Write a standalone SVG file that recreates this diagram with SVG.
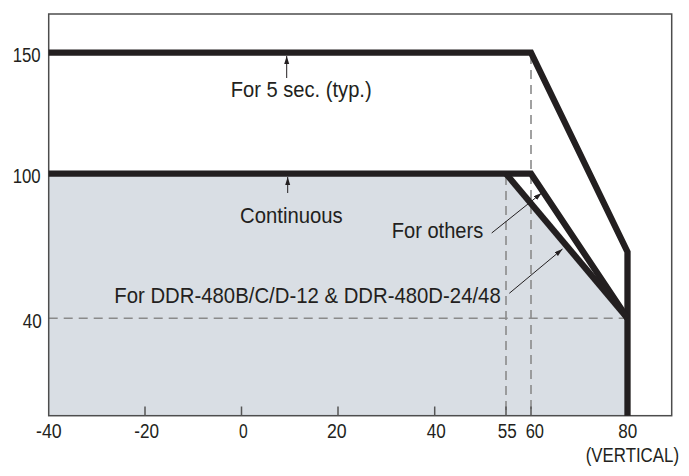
<svg xmlns="http://www.w3.org/2000/svg" width="689" height="476" viewBox="0 0 689 476">
<style>
.t{font-family:"Liberation Sans",Arial,sans-serif;fill:#231f20;}
.tk{font-size:20px;}
.lb{font-size:22px;}
.curve{fill:none;stroke:#231f20;stroke-width:6.3;stroke-linejoin:miter;}
.dash{fill:none;stroke:#8a8a8a;stroke-width:1.6;stroke-dasharray:9,6;}
.tick{stroke:#555;stroke-width:1.5;}
.arr{stroke:#231f20;stroke-width:1;fill:none;marker-end:url(#ah);}
</style>
<defs>
<marker id="ah" markerUnits="userSpaceOnUse" markerWidth="9" markerHeight="6" refX="8" refY="2.5" orient="auto">
<path d="M0,0 L8,2.5 L0,5 z" fill="#231f20"/>
</marker>
</defs>
<rect width="689" height="476" fill="#ffffff"/>
<g id="area">
<polygon points="48.7,173.7 506,173.7 627.5,318.3 627.5,415.7 48.7,415.7" fill="#d9dee4"/>
</g>
<g id="guides">
<line class="dash" x1="48.7" y1="318.3" x2="627" y2="318.3"/>
<line class="dash" x1="506" y1="176" x2="506" y2="415.7"/>
<line class="dash" x1="531" y1="55" x2="531" y2="415.7"/>
</g>
<g id="frame">
<rect x="48.7" y="14" width="623" height="401.7" fill="none" stroke="#4d4d4d" stroke-width="1.5"/>
<line class="tick" x1="145" y1="406.5" x2="145" y2="415.7"/>
<line class="tick" x1="241.5" y1="406.5" x2="241.5" y2="415.7"/>
<line class="tick" x1="338" y1="406.5" x2="338" y2="415.7"/>
<line class="tick" x1="434.7" y1="406.5" x2="434.7" y2="415.7"/>
<line class="tick" x1="506" y1="406.5" x2="506" y2="415.7"/>
<line class="tick" x1="531" y1="406.5" x2="531" y2="415.7"/>
</g>
<g id="curve150">
<path class="curve" d="M48.7,52.7 L531,52.7 L627.5,252 L627.5,415.7"/>
</g>
<g id="curve100">
<path class="curve" d="M48.7,173.7 L531,173.7 L627.5,318.3"/>
</g>
<g id="curve55">
<path class="curve" d="M506,173.7 L627.5,318.3"/>
</g>
<g id="connectors">
<line class="arr" x1="286.7" y1="78" x2="286.7" y2="56"/>
<line class="arr" x1="287.7" y1="193" x2="287.7" y2="177"/>
<line class="arr" x1="491.7" y1="233" x2="541.7" y2="193"/>
<line class="arr" x1="509.3" y1="293.3" x2="562.5" y2="249"/>
</g>
<g id="labels">
<text class="t lb" x="230.7" y="97.3" textLength="141" lengthAdjust="spacingAndGlyphs">For 5 sec. (typ.)</text>
<text class="t lb" x="240" y="222.7" textLength="102.7" lengthAdjust="spacingAndGlyphs">Continuous</text>
<text class="t lb" x="391.7" y="238.3" textLength="91.6" lengthAdjust="spacingAndGlyphs">For others</text>
<text class="t lb" x="114.3" y="303.2" textLength="386.4" lengthAdjust="spacingAndGlyphs">For DDR-480B/C/D-12 &amp; DDR-480D-24/48</text>
</g>
<g id="ticklabels">
<text class="t tk" x="12.7" y="62.3" textLength="28" lengthAdjust="spacingAndGlyphs">150</text>
<text class="t tk" x="12.7" y="183.3" textLength="28" lengthAdjust="spacingAndGlyphs">100</text>
<text class="t tk" x="22.7" y="327.7" textLength="19" lengthAdjust="spacingAndGlyphs">40</text>
<text class="t tk" x="36" y="438.3" textLength="25.7" lengthAdjust="spacingAndGlyphs">-40</text>
<text class="t tk" x="134.3" y="438.3" textLength="24.7" lengthAdjust="spacingAndGlyphs">-20</text>
<text class="t tk" x="239" y="438.3" textLength="8.7" lengthAdjust="spacingAndGlyphs">0</text>
<text class="t tk" x="327" y="438.3" textLength="19.7" lengthAdjust="spacingAndGlyphs">20</text>
<text class="t tk" x="426.7" y="438.3" textLength="19" lengthAdjust="spacingAndGlyphs">40</text>
<text class="t tk" x="497.7" y="438.3" textLength="19" lengthAdjust="spacingAndGlyphs">55</text>
<text class="t tk" x="525.7" y="438.3" textLength="18.3" lengthAdjust="spacingAndGlyphs">60</text>
<text class="t tk" x="618.3" y="438.3" textLength="19" lengthAdjust="spacingAndGlyphs">80</text>
<text class="t tk" transform="translate(585.7,462.3) scale(0.843,1)" x="0" y="0">(VERTICAL)</text>
</g>
</svg>
